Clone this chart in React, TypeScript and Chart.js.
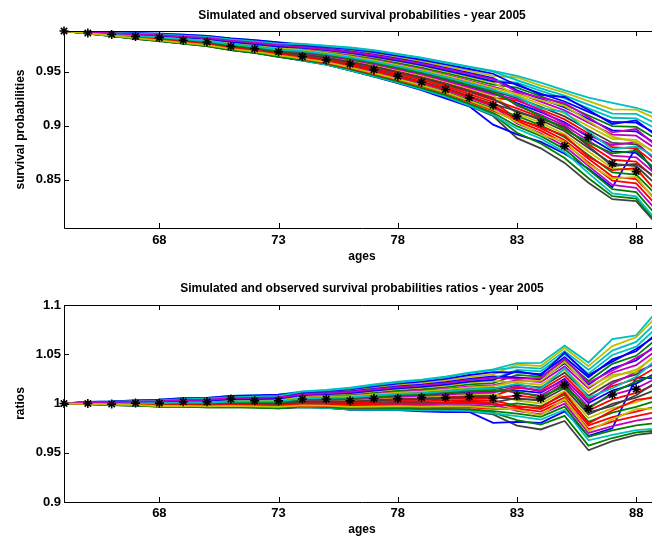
import { useEffect, useRef } from "react";
import { Chart, registerables } from "chart.js";

Chart.register(...registerables);

// ---------------- data ----------------
const ages = [64, 65, 66, 67, 68, 69, 70, 71, 72, 73, 74, 75, 76, 77, 78, 79, 80, 81, 82, 83, 84, 85, 86, 87, 88, 89];
const ageTicks = [68, 73, 78, 83, 88];
const survivalTicks = [0.85, 0.9, 0.95];
const ratioTicks = [0.9, 0.95, 1, 1.05, 1.1];

const observedSurvival = [0.988, 0.9861, 0.9848, 0.983, 0.9818, 0.9793, 0.9778, 0.9737, 0.9716, 0.9688, 0.9642, 0.9611, 0.9574, 0.9519, 0.9459, 0.9404, 0.9336, 0.9259, 0.9191, 0.9089, 0.9028, 0.8811, 0.8892, 0.8648, 0.8574, 0.829];

const observedRatio = [1.0, 1.0, 0.9994, 1.0004, 1.0004, 1.0017, 1.0017, 1.0045, 1.0027, 1.0027, 1.0045, 1.0045, 1.0027, 1.005, 1.005, 1.006, 1.006, 1.0068, 1.005, 1.0078, 1.005, 1.0187, 0.995, 1.0088, 1.0146, 1.03];

// simulated survival paths (one row per simulation, ages 64..89)
const simulatedSurvival = [
  [0.988, 0.9867, 0.985, 0.9834, 0.9821, 0.9804, 0.9787, 0.9757, 0.9736, 0.9708, 0.9682, 0.9654, 0.9619, 0.9578, 0.9531, 0.9483, 0.9428, 0.9366, 0.9302, 0.921, 0.9126, 0.9032, 0.8895, 0.8762, 0.8747, 0.8565],
  [0.988, 0.9869, 0.9854, 0.9839, 0.9828, 0.9812, 0.9796, 0.9768, 0.9747, 0.9721, 0.9712, 0.9688, 0.966, 0.9625, 0.9583, 0.954, 0.9491, 0.9438, 0.9382, 0.9353, 0.9274, 0.9197, 0.9095, 0.8996, 0.8989, 0.8856],
  [0.988, 0.9864, 0.9846, 0.9829, 0.9814, 0.9795, 0.9778, 0.9746, 0.9724, 0.9694, 0.9651, 0.962, 0.9577, 0.953, 0.9479, 0.9425, 0.9365, 0.9294, 0.9221, 0.9067, 0.8978, 0.8866, 0.8694, 0.8528, 0.8504, 0.8274],
  [0.988, 0.9877, 0.9868, 0.986, 0.9856, 0.9845, 0.9834, 0.9812, 0.9795, 0.9775, 0.976, 0.9743, 0.9727, 0.9703, 0.9668, 0.9632, 0.959, 0.955, 0.951, 0.9462, 0.94, 0.9328, 0.9262, 0.9213, 0.9167, 0.9097],
  [0.988, 0.9871, 0.9857, 0.9844, 0.9835, 0.982, 0.9806, 0.9779, 0.9759, 0.9735, 0.9697, 0.9671, 0.9639, 0.9601, 0.9557, 0.9511, 0.9459, 0.9402, 0.9342, 0.9186, 0.9101, 0.9004, 0.8861, 0.8723, 0.8706, 0.8517],
  [0.988, 0.9873, 0.9861, 0.985, 0.9842, 0.9828, 0.9815, 0.979, 0.9771, 0.9748, 0.9743, 0.9723, 0.9701, 0.9673, 0.9636, 0.9598, 0.9554, 0.9509, 0.9463, 0.9448, 0.9372, 0.9308, 0.9229, 0.9152, 0.915, 0.905],
  [0.988, 0.9856, 0.9832, 0.9808, 0.9786, 0.9762, 0.974, 0.9702, 0.9676, 0.964, 0.9605, 0.9568, 0.9515, 0.9458, 0.94, 0.9338, 0.927, 0.9185, 0.909, 0.8885, 0.879, 0.8655, 0.847, 0.8318, 0.83, 0.805],
  [0.988, 0.9856, 0.9834, 0.981, 0.979, 0.9766, 0.9745, 0.9705, 0.968, 0.9645, 0.9608, 0.957, 0.9515, 0.9456, 0.9396, 0.933, 0.9255, 0.918, 0.901, 0.892, 0.885, 0.874, 0.86, 0.843, 0.88, 0.85],
  [0.988, 0.9857, 0.9835, 0.9812, 0.979, 0.9766, 0.9744, 0.9707, 0.968, 0.9645, 0.961, 0.9572, 0.952, 0.9462, 0.9405, 0.9343, 0.9275, 0.9195, 0.9105, 0.8935, 0.8835, 0.87, 0.8512, 0.8345, 0.8322, 0.8065],
  [0.988, 0.9862, 0.9843, 0.9824, 0.9807, 0.9787, 0.9768, 0.9735, 0.9712, 0.9681, 0.9666, 0.9637, 0.9598, 0.9554, 0.9505, 0.9454, 0.9396, 0.933, 0.9261, 0.9234, 0.9151, 0.9059, 0.8928, 0.8801, 0.8787, 0.8614],
  [0.988, 0.986, 0.9839, 0.9818, 0.98, 0.9779, 0.9759, 0.9724, 0.97, 0.9654, 0.9605, 0.9568, 0.9515, 0.9458, 0.94, 0.9338, 0.927, 0.9187, 0.91, 0.8972, 0.888, 0.8755, 0.856, 0.8372, 0.8343, 0.808],
  [0.988, 0.9867, 0.985, 0.9834, 0.9821, 0.9804, 0.9787, 0.9757, 0.9736, 0.9708, 0.9704, 0.968, 0.965, 0.9613, 0.957, 0.9526, 0.9475, 0.942, 0.9362, 0.9305, 0.9224, 0.9142, 0.9028, 0.8918, 0.8908, 0.8759],
  [0.988, 0.9869, 0.9854, 0.9839, 0.9828, 0.9812, 0.9796, 0.9768, 0.9747, 0.9721, 0.9674, 0.9645, 0.9608, 0.9566, 0.9518, 0.9468, 0.9412, 0.9348, 0.9282, 0.9115, 0.9028, 0.8921, 0.8761, 0.8606, 0.8585, 0.8371],
  [0.988, 0.9864, 0.9846, 0.9829, 0.9814, 0.9795, 0.9778, 0.9746, 0.9724, 0.9694, 0.9689, 0.9663, 0.9629, 0.9589, 0.9544, 0.9497, 0.9443, 0.9384, 0.9322, 0.9258, 0.9175, 0.9087, 0.8961, 0.884, 0.8827, 0.8662],
  [0.988, 0.9875, 0.9864, 0.9855, 0.9849, 0.9837, 0.9825, 0.9801, 0.9783, 0.9762, 0.9735, 0.9714, 0.9691, 0.9661, 0.9623, 0.9584, 0.9538, 0.9491, 0.9443, 0.9329, 0.9249, 0.917, 0.9062, 0.8957, 0.8948, 0.8808],
  [0.988, 0.9858, 0.9836, 0.9813, 0.9793, 0.977, 0.9749, 0.9713, 0.9688, 0.9654, 0.9628, 0.9594, 0.9546, 0.9494, 0.9439, 0.9381, 0.9317, 0.9241, 0.9161, 0.9091, 0.9003, 0.8893, 0.8727, 0.8567, 0.8545, 0.8323],
  [0.988, 0.9867, 0.985, 0.9834, 0.9821, 0.9804, 0.9787, 0.9757, 0.9736, 0.9694, 0.9659, 0.9628, 0.9587, 0.9542, 0.9492, 0.9439, 0.938, 0.9312, 0.9241, 0.9162, 0.9077, 0.8976, 0.8828, 0.8684, 0.8666, 0.8468],
  [0.988, 0.9871, 0.9857, 0.9844, 0.9835, 0.982, 0.9806, 0.9779, 0.9759, 0.9735, 0.9727, 0.9706, 0.9681, 0.9649, 0.961, 0.9569, 0.9522, 0.9473, 0.9422, 0.94, 0.9323, 0.9253, 0.9162, 0.9074, 0.9069, 0.8953],
  [0.988, 0.9862, 0.9843, 0.9824, 0.9807, 0.9787, 0.9768, 0.9735, 0.9712, 0.9681, 0.9636, 0.9602, 0.9556, 0.9506, 0.9452, 0.9396, 0.9333, 0.9259, 0.9181, 0.902, 0.8929, 0.881, 0.8627, 0.845, 0.8424, 0.8177],
  [0.988, 0.9869, 0.9854, 0.9839, 0.9828, 0.9812, 0.9796, 0.9768, 0.9747, 0.9721, 0.972, 0.9697, 0.967, 0.9637, 0.9597, 0.9555, 0.9506, 0.9455, 0.9402, 0.9281, 0.92, 0.9114, 0.8995, 0.8879, 0.8868, 0.8711],
  [0.988, 0.9864, 0.9846, 0.9829, 0.9814, 0.9795, 0.9778, 0.9746, 0.9724, 0.9681, 0.9643, 0.9611, 0.9567, 0.9518, 0.9466, 0.941, 0.9349, 0.9276, 0.9201, 0.9138, 0.9052, 0.8949, 0.8794, 0.8645, 0.8626, 0.842],
  [0.988, 0.9877, 0.9868, 0.986, 0.9856, 0.9845, 0.9834, 0.9812, 0.9795, 0.9775, 0.975, 0.9731, 0.9712, 0.9685, 0.9649, 0.9613, 0.9569, 0.9527, 0.9483, 0.9376, 0.9298, 0.9225, 0.9129, 0.9035, 0.9029, 0.8905],
  [0.988, 0.9856, 0.9832, 0.9808, 0.9786, 0.9762, 0.974, 0.9702, 0.9676, 0.964, 0.9613, 0.9577, 0.9525, 0.947, 0.9413, 0.9352, 0.9286, 0.9205, 0.912, 0.8996, 0.8905, 0.8783, 0.8593, 0.8411, 0.8383, 0.8129],
  [0.988, 0.986, 0.9839, 0.9818, 0.98, 0.9779, 0.9759, 0.9724, 0.97, 0.9667, 0.962, 0.9585, 0.9536, 0.9482, 0.9426, 0.9367, 0.9302, 0.9223, 0.914, 0.9043, 0.8954, 0.8838, 0.866, 0.8489, 0.8464, 0.8226],
  [0.988, 0.9875, 0.9864, 0.9855, 0.9849, 0.9837, 0.9825, 0.9801, 0.9783, 0.9762, 0.9758, 0.974, 0.9722, 0.9697, 0.9662, 0.9627, 0.9585, 0.9545, 0.9503, 0.9424, 0.9347, 0.928, 0.9196, 0.9113, 0.911, 0.9002],
  [0.988, 0.9867, 0.985, 0.9834, 0.9821, 0.9804, 0.9787, 0.9757, 0.9736, 0.9708, 0.9678, 0.965, 0.9614, 0.9572, 0.9525, 0.9476, 0.942, 0.9357, 0.9292, 0.9246, 0.9138, 0.9018, 0.8912, 0.8821, 0.8848, 0.8638],
  [0.988, 0.9869, 0.9854, 0.9839, 0.9828, 0.9812, 0.9796, 0.9768, 0.9747, 0.9721, 0.9701, 0.9676, 0.9645, 0.9607, 0.9564, 0.9519, 0.9467, 0.9411, 0.9352, 0.9293, 0.9237, 0.9184, 0.9045, 0.8899, 0.8848, 0.8735],
  [0.988, 0.9862, 0.9843, 0.9824, 0.9807, 0.9787, 0.9768, 0.9735, 0.9712, 0.9681, 0.9663, 0.9633, 0.9593, 0.9548, 0.9499, 0.9447, 0.9388, 0.9321, 0.9251, 0.9127, 0.9065, 0.899, 0.8811, 0.8626, 0.8646, 0.8493],
  [0.988, 0.9871, 0.9857, 0.9844, 0.9835, 0.982, 0.9806, 0.9779, 0.9759, 0.9735, 0.9724, 0.9702, 0.9676, 0.9643, 0.9604, 0.9562, 0.9514, 0.9464, 0.9412, 0.9388, 0.9286, 0.9267, 0.9146, 0.9016, 0.9049, 0.8881],
  [0.988, 0.9864, 0.9846, 0.9829, 0.9814, 0.9795, 0.9778, 0.9746, 0.9724, 0.9694, 0.9686, 0.9659, 0.9624, 0.9584, 0.9538, 0.949, 0.9436, 0.9375, 0.9312, 0.9198, 0.9089, 0.8963, 0.8845, 0.8743, 0.8767, 0.8541],
  [0.988, 0.986, 0.9839, 0.9818, 0.98, 0.9779, 0.9759, 0.9724, 0.97, 0.9667, 0.964, 0.9607, 0.9562, 0.9512, 0.9459, 0.9403, 0.9341, 0.9268, 0.9191, 0.9055, 0.8991, 0.8907, 0.8711, 0.8587, 0.8606, 0.8347],
  [0.988, 0.9867, 0.985, 0.9834, 0.9821, 0.9804, 0.9787, 0.9757, 0.9736, 0.9708, 0.9693, 0.9667, 0.9634, 0.9595, 0.9551, 0.9504, 0.9451, 0.9393, 0.9332, 0.927, 0.9163, 0.9128, 0.8945, 0.8782, 0.8807, 0.8687],
  [0.988, 0.9873, 0.9861, 0.985, 0.9842, 0.9828, 0.9815, 0.979, 0.9771, 0.9748, 0.9731, 0.971, 0.9686, 0.9655, 0.9617, 0.9577, 0.953, 0.9482, 0.9433, 0.9317, 0.9262, 0.9211, 0.9079, 0.8938, 0.8969, 0.8784],
  [0.988, 0.9858, 0.9836, 0.9813, 0.9793, 0.977, 0.9749, 0.9713, 0.9688, 0.9654, 0.9624, 0.959, 0.9541, 0.9488, 0.9433, 0.9374, 0.931, 0.9232, 0.9151, 0.9032, 0.8917, 0.8852, 0.8644, 0.8509, 0.8525, 0.825],
];

// MATLAB default colour order
const lineColors = ["#0000ff", "#008000", "#ff0000", "#00bfbf", "#bf00bf", "#bfbf00", "#404040"];

const FONT = "'Liberation Sans', Arial, Helvetica, sans-serif";

const axesBox = {
  id: "axesBox",
  afterDraw(chart: any) {
    const { ctx, chartArea } = chart;
    const { left, top, right, bottom } = chartArea;
    const xs = chart.scales.x;
    const ys = chart.scales.y;
    ctx.save();
    ctx.strokeStyle = "#000";
    ctx.lineWidth = 1;
    ctx.beginPath();
    ctx.rect(Math.round(left) + 0.5, Math.round(top) + 0.5, Math.round(right - left), Math.round(bottom - top));
    const tl = 5;
    for (const v of xs.ticks.map((t: any) => t.value)) {
      const x = Math.round(xs.getPixelForValue(v)) + 0.5;
      ctx.moveTo(x, bottom);
      ctx.lineTo(x, bottom - tl);
      ctx.moveTo(x, top);
      ctx.lineTo(x, top + tl);
    }
    for (const v of ys.ticks.map((t: any) => t.value)) {
      const y = Math.round(ys.getPixelForValue(v)) + 0.5;
      ctx.moveTo(left, y);
      ctx.lineTo(left + tl, y);
      ctx.moveTo(right, y);
      ctx.lineTo(right - tl, y);
    }
    ctx.stroke();
    ctx.restore();
  },
};

function buildConfig(o: {
  title: string;
  yLabel: string;
  yMin: number;
  yMax: number;
  yTicks: number[];
  paths: number[][];
  observed: number[];
  titlePad: { top: number; bottom: number };
  xHeight: number;
  xTitleBottom: number;
  tickPad: number;
}): any {
  const n = o.paths.length;
  const simSets = o.paths.map((p, k) => ({
    data: p.map((v, i) => ({ x: ages[i], y: v })),
    borderColor: lineColors[k % lineColors.length],
    borderWidth: 1.8,
    pointRadius: 0,
    tension: 0,
    fill: false,
    order: n - k + 1,
  }));
  const obsSet = {
    data: o.observed.map((v, i) => ({ x: ages[i], y: v })),
    showLine: false,
    pointStyle: "star",
    pointRadius: 4.5,
    pointBorderColor: "#000",
    pointBackgroundColor: "#000",
    pointBorderWidth: 1.6,
    borderColor: "#000",
    clip: false,
    order: 0,
  };
  const tickFont = { family: FONT, size: 13, weight: "bold" };
  const labelFont = { family: FONT, size: 12, weight: "bold" };
  return {
    type: "line",
    data: { datasets: [...simSets, obsSet] },
    plugins: [axesBox],
    options: {
      animation: false,
      responsive: false,
      events: [],
      layout: { padding: { left: 0, right: 40, top: 0, bottom: 0 } },
      plugins: {
        legend: { display: false },
        tooltip: { enabled: false },
        title: {
          display: true,
          text: o.title,
          fullSize: false,
          color: "#000",
          font: labelFont,
          padding: o.titlePad,
        },
      },
      scales: {
        x: {
          type: "linear",
          min: 64,
          max: 89,
          afterBuildTicks: (s: any) => {
            s.ticks = ageTicks.map((v) => ({ value: v }));
          },
          afterFit: (s: any) => {
            s.height = o.xHeight;
          },
          grid: { display: false, drawTicks: false },
          border: { display: false },
          ticks: {
            color: "#000",
            font: tickFont,
            padding: o.tickPad,
            maxRotation: 0,
            autoSkip: false,
            callback: (v: any) => String(v),
          },
          title: {
            display: true,
            text: "ages",
            color: "#000",
            font: labelFont,
            padding: { top: 0, bottom: o.xTitleBottom },
          },
        },
        y: {
          type: "linear",
          min: o.yMin,
          max: o.yMax,
          afterBuildTicks: (s: any) => {
            s.ticks = o.yTicks.map((v) => ({ value: v }));
          },
          afterFit: (s: any) => {
            s.width = 64;
          },
          grid: { display: false, drawTicks: false },
          border: { display: false },
          ticks: {
            color: "#000",
            font: tickFont,
            padding: 3,
            autoSkip: false,
            callback: (v: any) => String(v),
          },
          title: {
            display: true,
            text: o.yLabel,
            color: "#000",
            font: labelFont,
            padding: { top: 13.3, bottom: 0 },
          },
        },
      },
    },
  };
}

export default function App() {
  const topRef = useRef<HTMLCanvasElement>(null);
  const bottomRef = useRef<HTMLCanvasElement>(null);

  useEffect(() => {
    const ratioPaths = simulatedSurvival.map((p) => p.map((v, i) => v / observedSurvival[i]));
    const c1 = new Chart(
      topRef.current as HTMLCanvasElement,
      buildConfig({
        title: "Simulated and observed survival probabilities - year 2005",
        yLabel: "survival probabilities",
        yMin: 0.805,
        yMax: 0.988,
        yTicks: survivalTicks,
        paths: simulatedSurvival,
        observed: observedSurvival,
        titlePad: { top: 8.3, bottom: 8.3 },
        xHeight: 44,
        xTitleBottom: 7.8,
        tickPad: 5,
      })
    );
    const c2 = new Chart(
      bottomRef.current as HTMLCanvasElement,
      buildConfig({
        title: "Simulated and observed survival probabilities ratios - year 2005",
        yLabel: "ratios",
        yMin: 0.9,
        yMax: 1.1,
        yTicks: ratioTicks,
        paths: ratioPaths,
        observed: observedRatio,
        titlePad: { top: 9.8, bottom: 8.8 },
        xHeight: 41,
        xTitleBottom: 5.8,
        tickPad: 4,
      })
    );
    return () => {
      c1.destroy();
      c2.destroy();
    };
  }, []);

  return (
    <div
      style={{
        position: "fixed",
        left: 0,
        top: 0,
        width: 652,
        height: 543,
        overflow: "hidden",
        background: "#fff",
      }}
    >
      <canvas ref={topRef} width={700} height={272} style={{ display: "block" }} />
      <canvas ref={bottomRef} width={700} height={271} style={{ display: "block" }} />
    </div>
  );
}
